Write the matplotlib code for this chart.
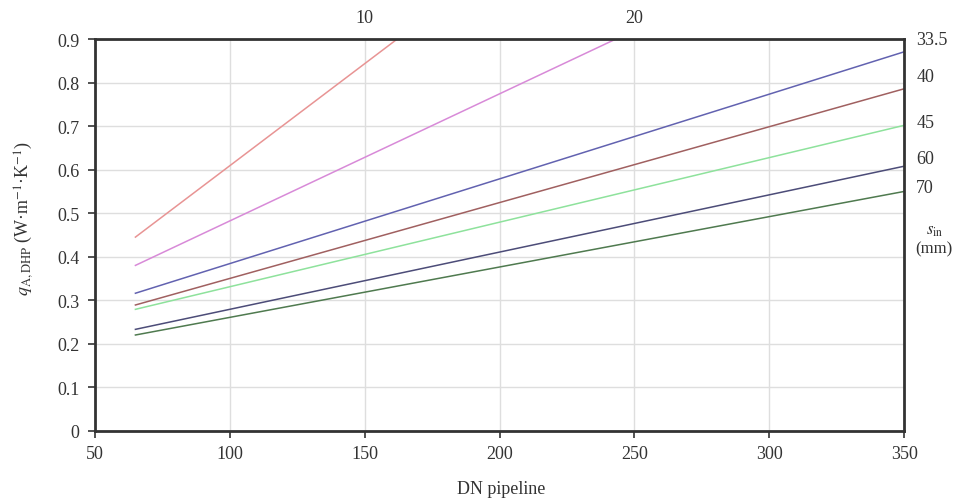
import matplotlib
matplotlib.use("Agg")
import matplotlib.pyplot as plt

plt.rcParams['font.family'] = ['Liberation Serif', 'DejaVu Serif']
plt.rcParams['mathtext.fontset'] = 'stix'

# thickness s_in (mm) labels
labels_top = ["10", "20"]
labels_right = ["33.5", "40", "45", "60", "70"]

# series: DN values and q values
dn_10 = [65, 162]
q_10 = [0.445, 0.90]
dn_20 = [65, 243]
q_20 = [0.380, 0.90]
dn_335 = [65, 350]
q_335 = [0.316, 0.871]
dn_40 = [65, 350]
q_40 = [0.289, 0.786]
dn_45 = [65, 350]
q_45 = [0.279, 0.702]
dn_60 = [65, 350]
q_60 = [0.233, 0.608]
dn_70 = [65, 350]
q_70 = [0.220, 0.550]

top_label_dn = [150, 250]
right_label_q = [0.900, 0.815, 0.708, 0.625, 0.558]

xticks = [50, 100, 150, 200, 250, 300, 350]
yticks = [0, 0.1, 0.2, 0.3, 0.4, 0.5, 0.6, 0.7, 0.8, 0.9]
yticklabels = ["0", "0.1", "0.2", "0.3", "0.4", "0.5", "0.6", "0.7", "0.8", "0.9"]

series = [
    (dn_10, q_10, "#e89494"),
    (dn_20, q_20, "#d88ad8"),
    (dn_335, q_335, "#6262b0"),
    (dn_40, q_40, "#a06060"),
    (dn_45, q_45, "#8ee29c"),
    (dn_60, q_60, "#4c4c78"),
    (dn_70, q_70, "#4f7a4f"),
]

fig = plt.figure(figsize=(9.64, 5.02), dpi=100)
ax = fig.add_axes([0.0985, 0.140, 0.8395, 0.780])

for x, y, c in series:
    ax.plot(x, y, color=c, lw=1.1, clip_on=True)

ax.set_xlim(50, 350)
ax.set_ylim(0, 0.9)
ax.set_xticks(xticks)
ax.set_yticks(yticks)
ax.set_yticklabels(yticklabels)
ax.grid(True, color="#dedede", lw=1.0)
ax.set_axisbelow(True)
for s in ax.spines.values():
    s.set_linewidth(2.0)
    s.set_color("#333333")
ax.tick_params(axis='both', direction='out', length=5, width=1.2, color="#333333",
               labelsize=13, labelcolor="#333333")
ax.tick_params(axis='x', pad=5)
ax.tick_params(axis='y', pad=6)

for lbl, xv in zip(labels_top, top_label_dn):
    ax.text(xv, 0.93, lbl, ha='center', va='bottom', fontsize=13, color="#333333",
            transform=ax.transData, clip_on=False)
for lbl, yv in zip(labels_right, right_label_q):
    ax.text(1.015, yv, lbl, ha='left', va='center', fontsize=13,
            color="#333333", transform=ax.get_yaxis_transform(), clip_on=False)
ax.text(1.037, 0.462, r"$s_{\mathrm{in}}$", ha='center', va='center', fontsize=12,
        color="#333333", transform=ax.get_yaxis_transform(), clip_on=False)
ax.text(1.037, 0.420, "(mm)", ha='center', va='center', fontsize=12,
        color="#333333", transform=ax.get_yaxis_transform(), clip_on=False)

ax.set_ylabel(r"$q_{\mathrm{A,DHP}}$ (W·m$^{-1}$·K$^{-1}$)", fontsize=13, color="#333333")
ax.yaxis.set_label_coords(-0.074, 0.545)
fig.text(0.52, 0.025, "DN pipeline", ha='center', va='center', fontsize=13, color="#333333")

fig.savefig("out.png", dpi=100)
